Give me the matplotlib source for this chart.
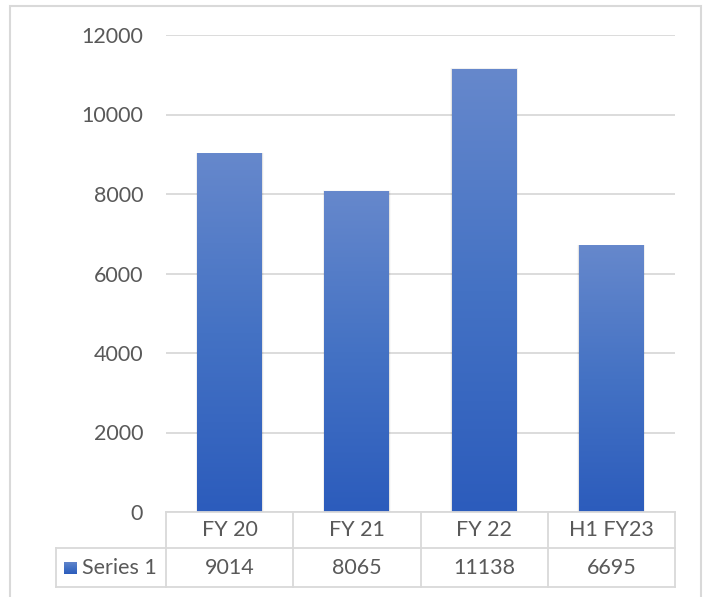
import numpy as np
import matplotlib
matplotlib.use("Agg")
import matplotlib.pyplot as plt
import matplotlib.transforms as mtransforms
from matplotlib.patches import Rectangle
from matplotlib.lines import Line2D
from matplotlib.colors import LinearSegmentedColormap

plt.rcParams['font.family'] = ['Lato', 'DejaVu Sans']

# data
categories = ["FY 20", "FY 21", "FY 22", "H1 FY23"]
series_name = "Series 1"
values = [9014, 8065, 11138, 6695]
yticks = [0, 2000, 4000, 6000, 8000, 10000, 12000]

W, H = 707, 597
txt = "#595959"
line_c = "#d9d9d9"
fs = 15.5

fig = plt.figure(figsize=(W / 100, H / 100), dpi=100)

# outer chart border
fig.patches.append(Rectangle((10 / W, -0.05), 691 / W, 1.05 - 6 / H,
                             transform=fig.transFigure, fill=False,
                             edgecolor=line_c, linewidth=1.5))

ax = fig.add_axes([166 / W, 1 - 512 / H, 509 / W, 477 / H])
ax.set_yticks(yticks)
ax.set_yticklabels([str(t) for t in yticks], fontsize=fs, color=txt)
ax.tick_params(axis='y', length=0, pad=16.5)
ax.set_xticks([])
for s in ax.spines.values():
    s.set_visible(False)
ax.grid(axis='y', color=line_c, linewidth=1.3)
ax.set_axisbelow(True)

# gradient bars
cmap = LinearSegmentedColormap.from_list("bar", ["#2c5cbc", "#4472c4", "#6688cc"])
grad = np.linspace(0, 1, 256).reshape(-1, 1)
bw = 0.51
x = np.arange(len(categories))
for xi, v in zip(x, values):
    # soft shadow
    for k, a in zip([0.05, 0.035, 0.02], [0.025, 0.035, 0.05]):
        ax.add_patch(Rectangle((xi - bw / 2 - k * 0.25, 0), bw + k * 0.5, v + k * 600,
                               facecolor="black", alpha=a, edgecolor="none", zorder=2))
    ax.imshow(grad, cmap=cmap, aspect='auto', origin='lower',
              extent=(xi - bw / 2, xi + bw / 2, 0, v), zorder=3)
ax.set_xlim(-0.5, len(categories) - 0.5)
ax.set_ylim(0, 12000)

# data table under the axes
tr = mtransforms.blended_transform_factory(ax.transData, fig.transFigure)
y0, y1, y2 = 1 - 512 / H, 1 - 548 / H, 1 - 587 / H
xl = -0.5 - 110 / 127.25
bounds = np.arange(len(categories) + 1) - 0.5

def hline(xa, xb, y):
    fig.add_artist(Line2D([xa, xb], [y, y], transform=tr, color=line_c, linewidth=1.3))

def vline(xv, ya, yb):
    fig.add_artist(Line2D([xv, xv], [ya, yb], transform=tr, color=line_c, linewidth=1.3))

hline(bounds[0], bounds[-1], y0)
hline(xl, bounds[-1], y1)
hline(xl, bounds[-1], y2)
vline(xl, y1, y2)
for b in bounds:
    vline(b, y0, y2)

for xi, c, v in zip(x, categories, values):
    fig.text(xi, (y0 + y1) / 2, c, transform=tr, ha='center', va='center',
             fontsize=fs, color=txt)
    fig.text(xi, (y1 + y2) / 2, str(v), transform=tr, ha='center', va='center',
             fontsize=fs, color=txt)

# legend key + series name
ym = (y1 + y2) / 2
kx = fig.add_axes([64 / W, ym - 6 / H, 13 / W, 12 / H])
kx.imshow(grad, cmap=cmap, aspect='auto', origin='lower')
kx.axis('off')
fig.text(82 / W, ym, series_name, ha='left', va='center', fontsize=fs, color=txt)

fig.savefig("out.png", dpi=100)
